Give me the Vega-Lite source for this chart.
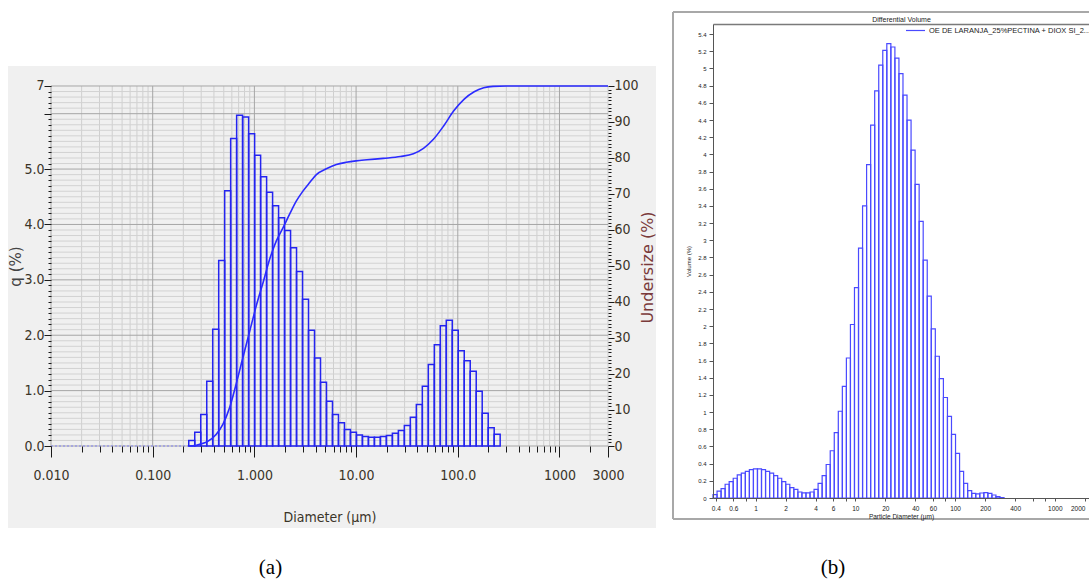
{
  "$schema": "https://vega.github.io/schema/vega-lite/v6.json",
  "background": "white",
  "padding": {"left": 8, "top": 10, "right": 0, "bottom": 0},
  "spacing": 15,
  "resolve": {"scale": {"stroke": "independent"}, "legend": {"stroke": "independent"}},
  "config": {
    "view": {"stroke": null},
    "axis": {"labelFlush": false, "labelOverlap": false}
  },
  "datasets": {
    "qbars": [
      {"lo": 0.2262, "hi": 0.2591, "q": 0.10}, {"lo": 0.2591, "hi": 0.2968, "q": 0.25},
      {"lo": 0.2968, "hi": 0.3400, "q": 0.57}, {"lo": 0.3400, "hi": 0.3892, "q": 1.17},
      {"lo": 0.3892, "hi": 0.4457, "q": 2.11}, {"lo": 0.4457, "hi": 0.5103, "q": 3.35},
      {"lo": 0.5103, "hi": 0.5843, "q": 4.61}, {"lo": 0.5843, "hi": 0.6691, "q": 5.55},
      {"lo": 0.6691, "hi": 0.7661, "q": 5.97}, {"lo": 0.7661, "hi": 0.8779, "q": 5.94},
      {"lo": 0.8779, "hi": 1.0054, "q": 5.64}, {"lo": 1.0054, "hi": 1.1513, "q": 5.25},
      {"lo": 1.1513, "hi": 1.3186, "q": 4.86}, {"lo": 1.3186, "hi": 1.5101, "q": 4.58},
      {"lo": 1.5101, "hi": 1.7291, "q": 4.34}, {"lo": 1.7291, "hi": 1.9806, "q": 4.12},
      {"lo": 1.9806, "hi": 2.2679, "q": 3.89}, {"lo": 2.2679, "hi": 2.5970, "q": 3.58},
      {"lo": 2.5970, "hi": 2.9745, "q": 3.15}, {"lo": 2.9745, "hi": 3.4062, "q": 2.65},
      {"lo": 3.4062, "hi": 3.9015, "q": 2.09}, {"lo": 3.9015, "hi": 4.4682, "q": 1.59},
      {"lo": 4.4682, "hi": 5.1169, "q": 1.15}, {"lo": 5.1169, "hi": 5.8608, "q": 0.81},
      {"lo": 5.8608, "hi": 6.7110, "q": 0.57}, {"lo": 6.7110, "hi": 7.6865, "q": 0.42},
      {"lo": 7.6865, "hi": 8.8029, "q": 0.30}, {"lo": 8.8029, "hi": 10.081, "q": 0.25},
      {"lo": 10.081, "hi": 11.544, "q": 0.20}, {"lo": 11.544, "hi": 13.222, "q": 0.17},
      {"lo": 13.222, "hi": 15.140, "q": 0.16}, {"lo": 15.140, "hi": 17.339, "q": 0.16},
      {"lo": 17.339, "hi": 19.863, "q": 0.17}, {"lo": 19.863, "hi": 22.747, "q": 0.19},
      {"lo": 22.747, "hi": 26.050, "q": 0.23}, {"lo": 26.050, "hi": 29.828, "q": 0.28},
      {"lo": 29.828, "hi": 34.164, "q": 0.37}, {"lo": 34.164, "hi": 39.128, "q": 0.52},
      {"lo": 39.128, "hi": 44.809, "q": 0.75}, {"lo": 44.809, "hi": 51.317, "q": 1.08},
      {"lo": 51.317, "hi": 58.767, "q": 1.47}, {"lo": 58.767, "hi": 67.297, "q": 1.83},
      {"lo": 67.297, "hi": 77.071, "q": 2.17}, {"lo": 77.071, "hi": 88.258, "q": 2.27},
      {"lo": 88.258, "hi": 101.08, "q": 2.09}, {"lo": 101.08, "hi": 115.75, "q": 1.72},
      {"lo": 115.75, "hi": 132.57, "q": 1.54}, {"lo": 132.57, "hi": 151.82, "q": 1.35},
      {"lo": 151.82, "hi": 173.86, "q": 0.99}, {"lo": 173.86, "hi": 199.13, "q": 0.59},
      {"lo": 199.13, "hi": 228.01, "q": 0.33}, {"lo": 228.01, "hi": 261.10, "q": 0.21}
    ],
    "curve": [
      {"d": 0.2262, "u": 0}, {"d": 0.26, "u": 0.1}, {"d": 0.29, "u": 0.5}, {"d": 0.34, "u": 1.1},
      {"d": 0.42, "u": 3.2}, {"d": 0.49, "u": 6.0}, {"d": 0.57, "u": 10.6}, {"d": 0.66, "u": 17.1},
      {"d": 0.77, "u": 24.5}, {"d": 0.90, "u": 31.9}, {"d": 1.045, "u": 39.0}, {"d": 1.22, "u": 45.5},
      {"d": 1.41, "u": 51.8}, {"d": 1.64, "u": 56.9}, {"d": 1.91, "u": 60.6}, {"d": 2.22, "u": 64.4},
      {"d": 2.58, "u": 68.0}, {"d": 3.0, "u": 70.8}, {"d": 3.5, "u": 73.2}, {"d": 4.07, "u": 75.4},
      {"d": 5.1, "u": 77.0}, {"d": 6.4, "u": 78.2}, {"d": 8.0, "u": 78.8}, {"d": 10.0, "u": 79.2},
      {"d": 12.8, "u": 79.5}, {"d": 18.5, "u": 79.9}, {"d": 27.3, "u": 80.4}, {"d": 36.6, "u": 81.2},
      {"d": 46.0, "u": 82.7}, {"d": 57.6, "u": 85.2}, {"d": 72.6, "u": 88.9}, {"d": 91.3, "u": 93.1},
      {"d": 115, "u": 96.3}, {"d": 145, "u": 98.4}, {"d": 180, "u": 99.5}, {"d": 222, "u": 99.9},
      {"d": 300, "u": 100}, {"d": 3000, "u": 100}
    ],
    "zeroline": [{"d": 0.01, "q": 0}, {"d": 0.2262, "q": 0}],
    "gxMajor": [{"v": 0.01}, {"v": 0.1}, {"v": 1}, {"v": 10}, {"v": 100}, {"v": 1000}],
    "gxMinor": [
      {"v": 0.02}, {"v": 0.03}, {"v": 0.04}, {"v": 0.05}, {"v": 0.06}, {"v": 0.07}, {"v": 0.08}, {"v": 0.09},
      {"v": 0.2}, {"v": 0.3}, {"v": 0.4}, {"v": 0.5}, {"v": 0.6}, {"v": 0.7}, {"v": 0.8}, {"v": 0.9},
      {"v": 2}, {"v": 3}, {"v": 4}, {"v": 5}, {"v": 6}, {"v": 7}, {"v": 8}, {"v": 9},
      {"v": 20}, {"v": 30}, {"v": 40}, {"v": 50}, {"v": 60}, {"v": 70}, {"v": 80}, {"v": 90},
      {"v": 200}, {"v": 300}, {"v": 400}, {"v": 500}, {"v": 600}, {"v": 700}, {"v": 800}, {"v": 900},
      {"v": 2000}, {"v": 3000}
    ],
    "gyMajor": [{"v": 0}, {"v": 1}, {"v": 2}, {"v": 3}, {"v": 4}, {"v": 5}, {"v": 6}, {"v": 6.5}],
    "gyMinor": [
      {"v": 0.1}, {"v": 0.2}, {"v": 0.3}, {"v": 0.4}, {"v": 0.5}, {"v": 0.6}, {"v": 0.7}, {"v": 0.8}, {"v": 0.9},
      {"v": 1.1}, {"v": 1.2}, {"v": 1.3}, {"v": 1.4}, {"v": 1.5}, {"v": 1.6}, {"v": 1.7}, {"v": 1.8}, {"v": 1.9},
      {"v": 2.1}, {"v": 2.2}, {"v": 2.3}, {"v": 2.4}, {"v": 2.5}, {"v": 2.6}, {"v": 2.7}, {"v": 2.8}, {"v": 2.9},
      {"v": 3.1}, {"v": 3.2}, {"v": 3.3}, {"v": 3.4}, {"v": 3.5}, {"v": 3.6}, {"v": 3.7}, {"v": 3.8}, {"v": 3.9},
      {"v": 4.1}, {"v": 4.2}, {"v": 4.3}, {"v": 4.4}, {"v": 4.5}, {"v": 4.6}, {"v": 4.7}, {"v": 4.8}, {"v": 4.9},
      {"v": 5.1}, {"v": 5.2}, {"v": 5.3}, {"v": 5.4}, {"v": 5.5}, {"v": 5.6}, {"v": 5.7}, {"v": 5.8}, {"v": 5.9},
      {"v": 6.1}, {"v": 6.2}, {"v": 6.3}, {"v": 6.4}
    ],
    "bbars": [
      {"lo": 0.3750, "hi": 0.4117, "v": 0.04}, {"lo": 0.4117, "hi": 0.4519, "v": 0.08},
      {"lo": 0.4519, "hi": 0.4961, "v": 0.11}, {"lo": 0.4961, "hi": 0.5446, "v": 0.16},
      {"lo": 0.5446, "hi": 0.5979, "v": 0.19}, {"lo": 0.5979, "hi": 0.6563, "v": 0.23},
      {"lo": 0.6563, "hi": 0.7205, "v": 0.27}, {"lo": 0.7205, "hi": 0.7909, "v": 0.29},
      {"lo": 0.7909, "hi": 0.8682, "v": 0.31}, {"lo": 0.8682, "hi": 0.9531, "v": 0.33},
      {"lo": 0.9531, "hi": 1.0463, "v": 0.34}, {"lo": 1.0463, "hi": 1.1486, "v": 0.34},
      {"lo": 1.1486, "hi": 1.2609, "v": 0.33}, {"lo": 1.2609, "hi": 1.3842, "v": 0.31},
      {"lo": 1.3842, "hi": 1.5195, "v": 0.29}, {"lo": 1.5195, "hi": 1.6681, "v": 0.26},
      {"lo": 1.6681, "hi": 1.8312, "v": 0.23}, {"lo": 1.8312, "hi": 2.0102, "v": 0.19},
      {"lo": 2.0102, "hi": 2.2068, "v": 0.16}, {"lo": 2.2068, "hi": 2.4225, "v": 0.12},
      {"lo": 2.4225, "hi": 2.6594, "v": 0.10}, {"lo": 2.6594, "hi": 2.9194, "v": 0.07},
      {"lo": 2.9194, "hi": 3.2048, "v": 0.06}, {"lo": 3.2048, "hi": 3.5182, "v": 0.06},
      {"lo": 3.5182, "hi": 3.8622, "v": 0.07}, {"lo": 3.8622, "hi": 4.2398, "v": 0.10},
      {"lo": 4.2398, "hi": 4.6543, "v": 0.17}, {"lo": 4.6543, "hi": 5.1093, "v": 0.26},
      {"lo": 5.1093, "hi": 5.6089, "v": 0.39}, {"lo": 5.6089, "hi": 6.1573, "v": 0.55},
      {"lo": 6.1573, "hi": 6.7593, "v": 0.76}, {"lo": 6.7593, "hi": 7.4201, "v": 1.01},
      {"lo": 7.4201, "hi": 8.1456, "v": 1.30}, {"lo": 8.1456, "hi": 8.9420, "v": 1.63},
      {"lo": 8.9420, "hi": 9.8163, "v": 2.02}, {"lo": 9.8163, "hi": 10.776, "v": 2.45},
      {"lo": 10.776, "hi": 11.830, "v": 2.91}, {"lo": 11.830, "hi": 12.986, "v": 3.40},
      {"lo": 12.986, "hi": 14.256, "v": 3.88}, {"lo": 14.256, "hi": 15.650, "v": 4.34},
      {"lo": 15.650, "hi": 17.180, "v": 4.74}, {"lo": 17.180, "hi": 18.859, "v": 5.04},
      {"lo": 18.859, "hi": 20.703, "v": 5.21}, {"lo": 20.703, "hi": 22.727, "v": 5.29},
      {"lo": 22.727, "hi": 24.950, "v": 5.25}, {"lo": 24.950, "hi": 27.389, "v": 5.12},
      {"lo": 27.389, "hi": 30.067, "v": 4.94}, {"lo": 30.067, "hi": 33.006, "v": 4.69},
      {"lo": 33.006, "hi": 36.233, "v": 4.40}, {"lo": 36.233, "hi": 39.776, "v": 4.05},
      {"lo": 39.776, "hi": 43.665, "v": 3.65}, {"lo": 43.665, "hi": 47.934, "v": 3.22},
      {"lo": 47.934, "hi": 52.620, "v": 2.77}, {"lo": 52.620, "hi": 57.765, "v": 2.35},
      {"lo": 57.765, "hi": 63.413, "v": 1.97}, {"lo": 63.413, "hi": 69.612, "v": 1.65},
      {"lo": 69.612, "hi": 76.418, "v": 1.39}, {"lo": 76.418, "hi": 83.890, "v": 1.17},
      {"lo": 83.890, "hi": 92.092, "v": 0.95}, {"lo": 92.092, "hi": 101.10, "v": 0.74},
      {"lo": 101.10, "hi": 110.98, "v": 0.52}, {"lo": 110.98, "hi": 121.83, "v": 0.31},
      {"lo": 121.83, "hi": 133.74, "v": 0.17}, {"lo": 133.74, "hi": 146.82, "v": 0.085},
      {"lo": 146.82, "hi": 161.17, "v": 0.054}, {"lo": 161.17, "hi": 176.93, "v": 0.047},
      {"lo": 176.93, "hi": 194.23, "v": 0.058}, {"lo": 194.23, "hi": 213.22, "v": 0.062},
      {"lo": 213.22, "hi": 234.07, "v": 0.054}, {"lo": 234.07, "hi": 256.95, "v": 0.035},
      {"lo": 256.95, "hi": 282.07, "v": 0.016}, {"lo": 282.07, "hi": 309.65, "v": 0.005}
    ]
  },
  "hconcat": [
    {
      "width": 557,
      "height": 422,
      "title": {"text": "(a)", "orient": "bottom", "frame": "group", "anchor": "middle", "baseline": "top", "dx": -59, "offset": 29, "font": "Liberation Serif", "fontSize": 21, "fontWeight": "normal", "color": "#000000"},
      "resolve": {"scale": {"y": "independent"}},
      "layer": [
        {
          "layer": [
            {
              "data": {"values": [{}]},
              "mark": {"type": "rect", "fill": "#f0f0f0"},
              "encoding": {
                "x": {"datum": 0.003778, "type": "quantitative", "scale": {"type": "log", "domain": [0.01, 3000], "nice": false}},
                "x2": {"datum": 8895},
                "y": {"datum": -1.4805, "type": "quantitative", "scale": {"domain": [0, 7.6194], "nice": false, "zero": false}},
                "y2": {"datum": 6.861}
              }
            },
            {
              "data": {"name": "gxMinor"},
              "mark": {"type": "rule", "color": "#cfcfcf", "strokeWidth": 1},
              "encoding": {
                "x": {"field": "v", "type": "quantitative", "scale": {"type": "log", "domain": [0.01, 3000], "nice": false}},
                "y": {"datum": 0, "type": "quantitative", "scale": {"domain": [0, 7.6194], "nice": false, "zero": false}},
                "y2": {"datum": 6.5}
              }
            },
            {
              "data": {"name": "gyMinor"},
              "mark": {"type": "rule", "color": "#d2d2d2", "strokeWidth": 1},
              "encoding": {"y": {"field": "v", "type": "quantitative", "scale": {"domain": [0, 7.6194], "nice": false, "zero": false}}}
            },
            {
              "data": {"name": "gxMajor"},
              "mark": {"type": "rule", "color": "#a6a6a6", "strokeWidth": 1},
              "encoding": {
                "x": {"field": "v", "type": "quantitative", "scale": {"type": "log", "domain": [0.01, 3000], "nice": false}},
                "y": {"datum": 0, "type": "quantitative", "scale": {"domain": [0, 7.6194], "nice": false, "zero": false}},
                "y2": {"datum": 6.5}
              }
            },
            {
              "data": {"name": "gyMajor"},
              "mark": {"type": "rule", "color": "#a6a6a6", "strokeWidth": 1},
              "encoding": {"y": {"field": "v", "type": "quantitative", "scale": {"domain": [0, 7.6194], "nice": false, "zero": false}}}
            },
            {
              "data": {"name": "zeroline"},
              "mark": {"type": "line", "color": "#9c9ce6", "strokeWidth": 1.5, "strokeDash": [2, 2]},
              "encoding": {
                "x": {"field": "d", "type": "quantitative", "scale": {"type": "log", "domain": [0.01, 3000], "nice": false}},
                "y": {"field": "q", "type": "quantitative", "scale": {"domain": [0, 7.6194], "nice": false, "zero": false}}
              }
            },
            {
              "data": {"name": "qbars"},
              "mark": {"type": "rect", "filled": false, "stroke": "#2424f0", "strokeWidth": 1.5},
              "encoding": {
                "x": {
                  "field": "lo", "type": "quantitative",
                  "scale": {"type": "log", "domain": [0.01, 3000], "nice": false},
                  "axis": {
                    "orient": "bottom",
                    "zindex": 1,
                    "tickCount": 1000,
                    "labelOverlap": false,
                    "values": [0.01, 0.02, 0.03, 0.04, 0.05, 0.06, 0.07, 0.08, 0.09, 0.1, 0.2, 0.3, 0.4, 0.5, 0.6, 0.7, 0.8, 0.9, 1, 2, 3, 4, 5, 6, 7, 8, 9, 10, 20, 30, 40, 50, 60, 70, 80, 90, 100, 200, 300, 400, 500, 600, 700, 800, 900, 1000, 2000, 3000],
                    "labelExpr": "datum.value == 0.01 ? '0.010' : datum.value == 0.1 ? '0.100' : datum.value == 1 ? '1.000' : datum.value == 10 ? '10.00' : datum.value == 100 ? '100.0' : datum.value == 1000 ? '1000' : datum.value == 3000 ? '3000' : ''",
                    "grid": false,
                    "domain": false,
                    "tickColor": "#1a1a1a",
                    "tickSize": {"condition": {"test": "indexof([0.01, 0.1, 1, 10, 100, 1000, 3000], datum.value) >= 0", "value": 11}, "value": 6},
                    "labelFont": "DejaVu Sans Condensed",
                    "labelFontSize": 14,
                    "labelColor": "#3a3428",
                    "labelPadding": 11,
                    "title": "Diameter (µm)",
                    "titleFont": "DejaVu Sans Condensed",
                    "titleFontSize": 14,
                    "titleFontWeight": "normal",
                    "titleColor": "#3a3428",
                    "titlePadding": 28
                  }
                },
                "x2": {"field": "hi"},
                "y": {
                  "field": "q", "type": "quantitative",
                  "scale": {"domain": [0, 7.6194], "nice": false, "zero": false},
                  "axis": {
                    "orient": "left",
                    "zindex": 1,
                    "tickCount": 1000,
                    "labelOverlap": false,
                    "values": [0, 0.1, 0.2, 0.3, 0.4, 0.5, 0.6, 0.7, 0.8, 0.9, 1, 1.1, 1.2, 1.3, 1.4, 1.5, 1.6, 1.7, 1.8, 1.9, 2, 2.1, 2.2, 2.3, 2.4, 2.5, 2.6, 2.7, 2.8, 2.9, 3, 3.1, 3.2, 3.3, 3.4, 3.5, 3.6, 3.7, 3.8, 3.9, 4, 4.1, 4.2, 4.3, 4.4, 4.5, 4.6, 4.7, 4.8, 4.9, 5, 5.1, 5.2, 5.3, 5.4, 5.5, 5.6, 5.7, 5.8, 5.9, 6, 6.1, 6.2, 6.3, 6.4, 6.5],
                    "labelExpr": "datum.value == 6.5 ? '7' : (datum.value < 5.01 && abs(datum.value - round(datum.value)) < 0.001) ? format(datum.value, '.1f') : ''",
                    "grid": false,
                    "domain": false,
                    "tickColor": "#1a1a1a",
                    "tickSize": {"condition": {"test": "abs(datum.value - round(datum.value)) < 0.001 || datum.value == 6.5", "value": 7}, "value": 3},
                    "labelFont": "DejaVu Sans Condensed",
                    "labelFontSize": 14,
                    "labelColor": "#3a3428",
                    "labelPadding": 0,
                    "title": "q (%)",
                    "titleY": 242,
                    "titleFont": "DejaVu Sans",
                    "titleFontSize": 15,
                    "titleFontWeight": "normal",
                    "titleColor": "#444444",
                    "titlePadding": 0
                  }
                },
                "y2": {"datum": 0}
              }
            }
          ]
        },
        {
          "data": {"name": "curve"},
          "mark": {"type": "line", "color": "#2b2bff", "strokeWidth": 1.6, "interpolate": "monotone"},
          "encoding": {
            "x": {"field": "d", "type": "quantitative", "scale": {"type": "log", "domain": [0.01, 3000], "nice": false}},
            "y": {
              "field": "u", "type": "quantitative",
              "scale": {"domain": [0, 117.222], "nice": false, "zero": false},
              "axis": {
                "orient": "right",
                "zindex": 1,
                "tickCount": 1000,
                "labelOverlap": false,
                "values": [0, 1, 2, 3, 4, 5, 6, 7, 8, 9, 10, 11, 12, 13, 14, 15, 16, 17, 18, 19, 20, 21, 22, 23, 24, 25, 26, 27, 28, 29, 30, 31, 32, 33, 34, 35, 36, 37, 38, 39, 40, 41, 42, 43, 44, 45, 46, 47, 48, 49, 50, 51, 52, 53, 54, 55, 56, 57, 58, 59, 60, 61, 62, 63, 64, 65, 66, 67, 68, 69, 70, 71, 72, 73, 74, 75, 76, 77, 78, 79, 80, 81, 82, 83, 84, 85, 86, 87, 88, 89, 90, 91, 92, 93, 94, 95, 96, 97, 98, 99, 100],
                "labelExpr": "datum.value % 10 == 0 ? format(datum.value, 'd') : ''",
                "grid": false,
                "domain": false,
                "tickColor": "#1a1a1a",
                "tickSize": {"condition": {"test": "datum.value % 10 == 0", "value": 6}, "value": 3},
                "labelFont": "DejaVu Sans Condensed",
                "labelFontSize": 14,
                "labelColor": "#3a3428",
                "labelPadding": 0,
                "title": "Undersize (%)",
                "titleY": 243,
                "titleAngle": 270,
                "titleBaseline": "top",
                "titleFont": "DejaVu Sans",
                "titleFontSize": 16,
                "titleFontWeight": "normal",
                "titleColor": "#7a3a3a",
                "titlePadding": 1
              }
            }
          }
        }
      ]
    },
    {
      "width": 376,
      "height": 474,
      "title": {"text": "(b)", "orient": "bottom", "frame": "group", "anchor": "middle", "baseline": "top", "dx": -68, "offset": 37, "font": "Liberation Serif", "fontSize": 21, "fontWeight": "normal", "color": "#000000"},
      "resolve": {"axis": {"x": "independent"}},
      "layer": [
        {
          "data": {"values": [{}]},
          "mark": {"type": "rule", "color": "#a8a8a8", "strokeWidth": 2},
          "encoding": {
            "x": {
              "datum": 0.149, "type": "quantitative",
              "scale": {"type": "log", "domain": [0.375, 2200], "nice": false},
              "axis": {
                "orient": "top",
                "zindex": 1,
                "labels": false,
                "ticks": false,
                "domain": true,
                "domainColor": "#7a7a7a",
                "domainWidth": 1.5,
                "grid": false,
                "title": "Differential Volume",
                "titleFont": "Liberation Sans",
                "titleFontSize": 7,
                "titleFontWeight": "normal",
                "titleColor": "#222222",
                "titlePadding": 2
              }
            },
            "x2": {"datum": 2200},
            "y": {"datum": 5.658, "type": "quantitative", "scale": {"domain": [0, 5.518], "nice": false, "zero": false}}
          }
        },
        {
          "data": {"values": [{}]},
          "mark": {"type": "rule", "color": "#a8a8a8", "strokeWidth": 2},
          "encoding": {
            "x": {"datum": 0.149, "type": "quantitative", "scale": {"type": "log", "domain": [0.375, 2200], "nice": false}, "axis": null},
            "y": {"datum": -0.2445, "type": "quantitative", "scale": {"domain": [0, 5.518], "nice": false, "zero": false}},
            "y2": {"datum": 5.658}
          }
        },
        {
          "data": {"values": [{}]},
          "mark": {"type": "rule", "color": "#a8a8a8", "strokeWidth": 2},
          "encoding": {
            "x": {"datum": 0.149, "type": "quantitative", "scale": {"type": "log", "domain": [0.375, 2200], "nice": false}, "axis": null},
            "x2": {"datum": 2200},
            "y": {"datum": -0.2445, "type": "quantitative", "scale": {"domain": [0, 5.518], "nice": false, "zero": false}}
          }
        },
        {
          "data": {"name": "bbars"},
          "mark": {"type": "rect", "filled": false, "strokeWidth": 1.2},
          "encoding": {
            "x": {
              "field": "lo", "type": "quantitative",
              "scale": {"type": "log", "domain": [0.375, 2200], "nice": false},
              "axis": {
                "orient": "bottom",
                "zindex": 1,
                "tickCount": 1000,
                "labelOverlap": false,
                "values": [0.4, 0.6, 0.8, 1, 2, 4, 6, 8, 10, 20, 40, 60, 80, 100, 200, 400, 600, 800, 1000, 2000],
                "labelExpr": "indexof([0.8, 8, 80, 600, 800], datum.value) >= 0 ? '' : toString(datum.value)",
                "labelAlign": {"condition": {"test": "datum.value == 2000", "value": "right"}, "value": "center"},
                "grid": false,
                "domainColor": "#555555",
                "tickColor": "#555555",
                "tickSize": 3,
                "labelFont": "Liberation Sans",
                "labelFontSize": 6.5,
                "labelColor": "#222222",
                "labelPadding": 4,
                "title": "Particle Diameter (µm)",
                "titleFont": "Liberation Sans",
                "titleFontSize": 6.5,
                "titleFontWeight": "normal",
                "titleColor": "#222222",
                "titlePadding": 2
              }
            },
            "x2": {"field": "hi"},
            "y": {
              "field": "v", "type": "quantitative",
              "scale": {"domain": [0, 5.518], "nice": false, "zero": false},
              "axis": {
                "orient": "left",
                "zindex": 1,
                "tickCount": 1000,
                "labelOverlap": false,
                "values": [0, 0.2, 0.4, 0.6, 0.8, 1, 1.2, 1.4, 1.6, 1.8, 2, 2.2, 2.4, 2.6, 2.8, 3, 3.2, 3.4, 3.6, 3.8, 4, 4.2, 4.4, 4.6, 4.8, 5, 5.2, 5.4],
                "labelExpr": "format(datum.value, '~g')",
                "grid": false,
                "domain": true,
                "domainColor": "#555555",
                "tickColor": "#555555",
                "tickSize": 4,
                "labelFont": "Liberation Sans",
                "labelFontSize": 6,
                "labelColor": "#222222",
                "labelPadding": 3,
                "title": "Volume (%)",
                "titleFont": "Liberation Sans",
                "titleFontSize": 6,
                "titleFontWeight": "normal",
                "titleColor": "#222222",
                "titlePadding": 6
              }
            },
            "y2": {"datum": 0},
            "stroke": {
              "datum": "OE DE LARANJA_25%PECTINA + DIOX SI_2...",
              "type": "nominal",
              "scale": {"range": ["#4a4aff"]},
              "legend": {
                "title": null,
                "orient": "none",
                "legendX": 192,
                "legendY": -4,
                "symbolType": "stroke",
                "symbolSize": 360,
                "symbolStrokeWidth": 1.2,
                "labelFont": "Liberation Sans",
                "labelFontSize": 7.5,
                "labelColor": "#222222",
                "labelLimit": 400,
                "labelOffset": 3,
                "padding": 0
              }
            }
          }
        }
      ]
    }
  ]
}
